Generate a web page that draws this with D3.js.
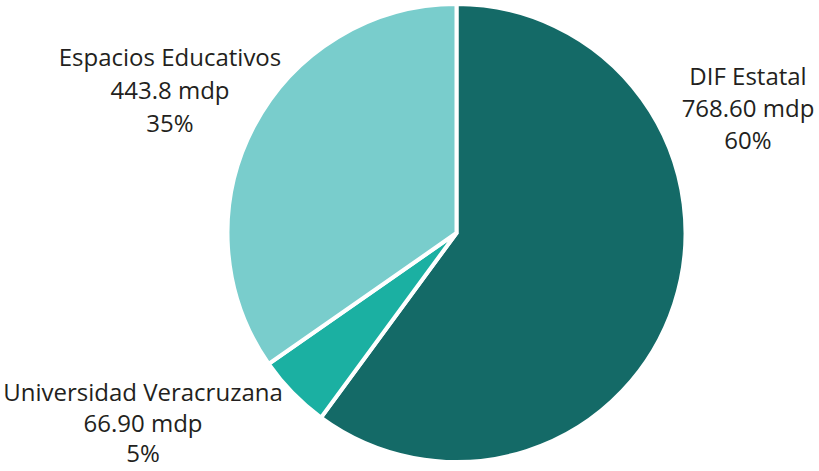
<!DOCTYPE html>
<html>
<head>
<meta charset="utf-8">
<script src="https://cdn.jsdelivr.net/npm/d3@7"></script>
<style>
  body { margin: 0; background: #fff; }
  text { font-family: "Open Sans", sans-serif; fill: #231f20; }
</style>
</head>
<body>
<svg id="chart" width="819" height="471"></svg>
<script>
// data
const categories = ["DIF Estatal", "Universidad Veracruzana", "Espacios Educativos"];
const amounts = [768.60, 66.90, 443.8];
const amountLabels = ["768.60 mdp", "66.90 mdp", "443.8 mdp"];
const percentLabels = ["60%", "5%", "35%"];
const colors = ["#146a67", "#1bb0a2", "#79cdcc"];

// label anchor points (centre of first line baseline) and line gap
const labelPos = [[748, 85, 32], [143, 401, 30.5], [170, 66, 33]];

var width = 819, height = 471;
var cx = 456.5, cy = 233, radius = 229;

var svg = d3.select("#chart");

var data = categories.map(function(c, i) {
  return { name: c, value: amounts[i], amount: amountLabels[i], pct: percentLabels[i], color: colors[i], pos: labelPos[i] };
});

var pie = d3.pie().sort(null).value(function(d) { return d.value; });
var arc = d3.arc().innerRadius(0).outerRadius(radius);

var g = svg.append("g").attr("transform", "translate(" + cx + "," + cy + ")");

g.selectAll("path")
  .data(pie(data))
  .enter()
  .append("path")
  .attr("d", arc)
  .attr("fill", function(d) { return d.data.color; })
  .attr("stroke", "#fff")
  .attr("stroke-width", 4)
  .attr("stroke-linejoin", "miter");

// labels
var labels = svg.append("g");
data.forEach(function(d) {
  var t = labels.append("text")
    .attr("text-anchor", "middle")
    .style("font-size", "24px");
  [d.name, d.amount, d.pct].forEach(function(line, i) {
    t.append("tspan")
      .attr("x", d.pos[0])
      .attr("y", d.pos[1] + i * d.pos[2])
      .text(line);
  });
});
</script>
</body>
</html>
